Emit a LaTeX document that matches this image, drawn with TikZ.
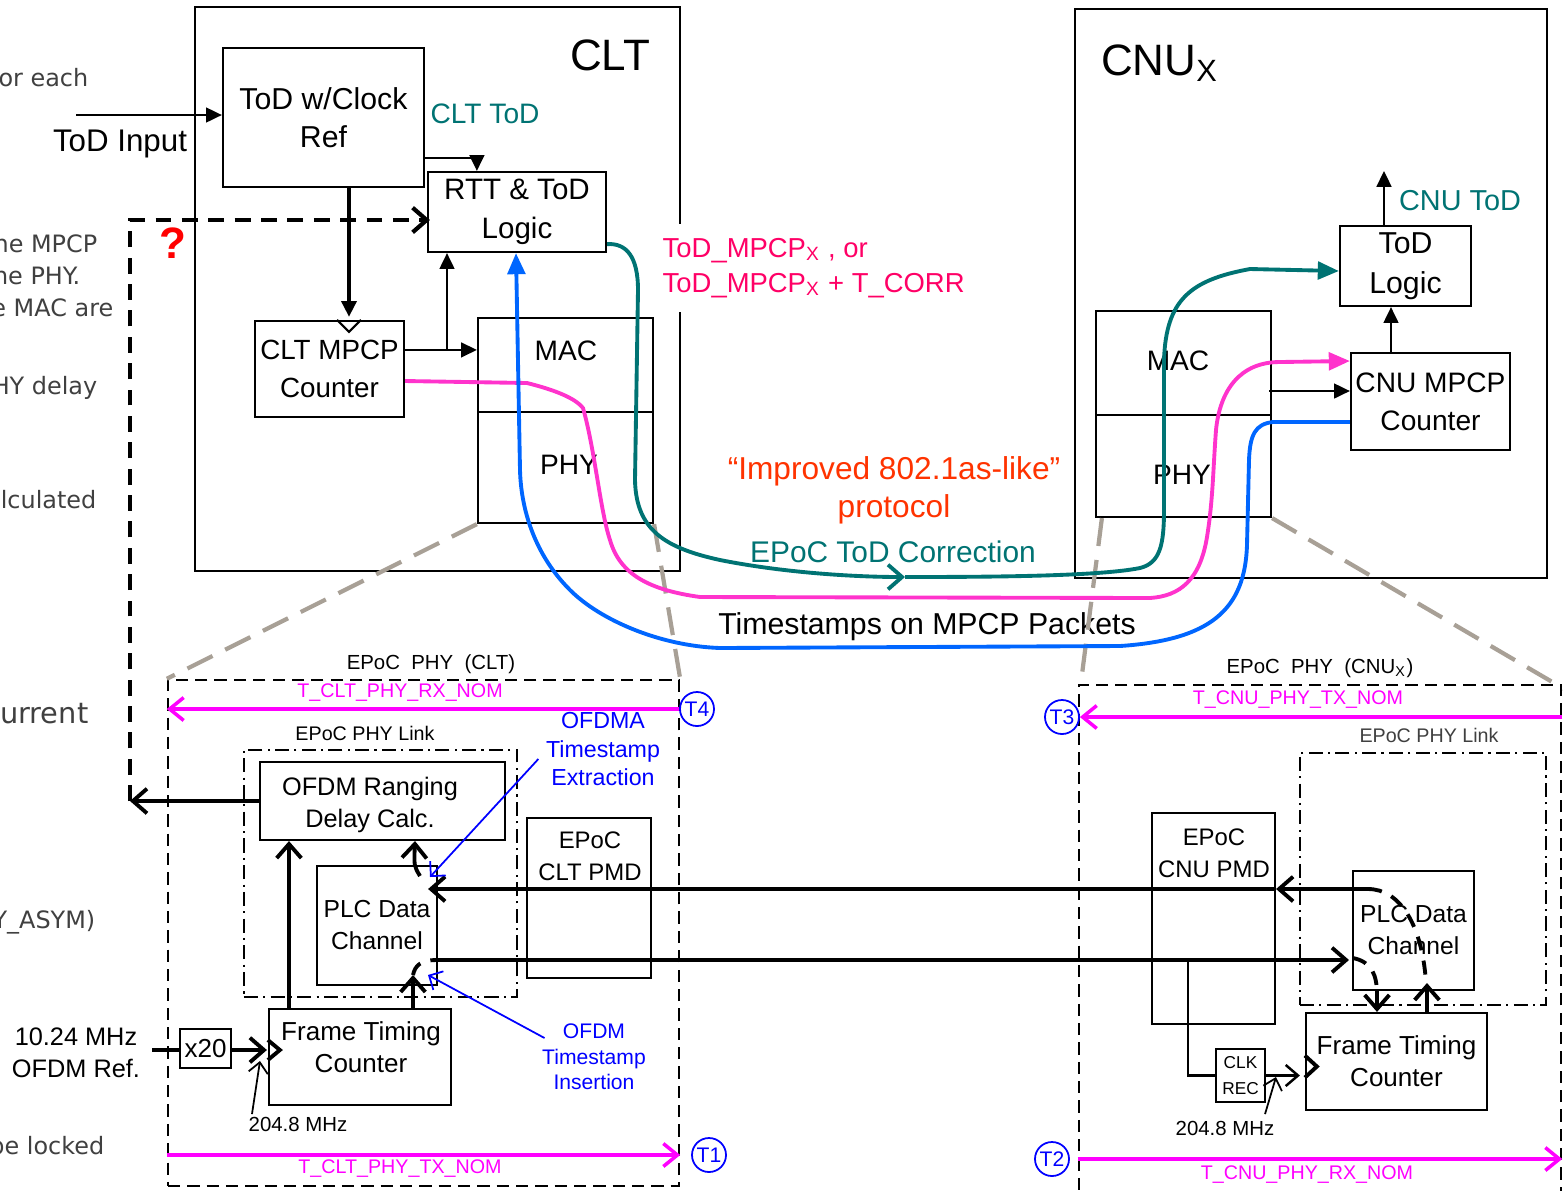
\documentclass[tikz,border=0pt]{standalone}
\usepackage{fontspec}
\setmainfont{Liberation Sans}
\newfontfamily\vfont{DejaVu Sans}
\usetikzlibrary{arrows.meta,positioning,calc}
\definecolor{tealc}{RGB}{0,115,115}
\definecolor{pinkc}{RGB}{255,51,204}
\definecolor{bluec}{RGB}{0,102,255}
\definecolor{magc}{RGB}{255,0,255}
\definecolor{redc}{RGB}{255,0,102}
\definecolor{orgc}{RGB}{255,51,0}
\definecolor{grayc}{RGB}{168,160,150}
\definecolor{txtgray}{RGB}{64,64,64}
\definecolor{lblue}{RGB}{0,0,255}
\newcommand{\fz}[2]{\fontsize{#1}{#2}\selectfont}
\tikzset{
  bx/.style={draw,line width=0.6pt,inner sep=0pt,align=center},
  lb/.style={inner sep=0pt,align=center},
  gt/.style={inner sep=0pt,anchor=east,text=txtgray,font=\vfont\fz{6.8}{8}},
  tcirc/.style={circle,draw=lblue,text=lblue,line width=0.5pt,minimum size=0.34cm,inner sep=0pt,font=\fz{6}{7}},
  phybox/.style={draw,line width=0.6pt,dash pattern=on 3.5pt off 2pt},
  linkbox/.style={draw,line width=0.6pt,dash pattern=on 4pt off 1.5pt on 0.6pt off 1.5pt},
  ae/.style={-{Triangle[length=4.5pt,width=4.2pt]},line width=0.6pt},
  te/.style={-{Straight Barb[length=4pt,width=7pt]},line width=1.1pt},
  ne/.style={-{Straight Barb[length=3pt,width=5.5pt]},line width=0.5pt},
  me/.style={-{Straight Barb[length=4pt,width=6.5pt]},line width=1pt,magc},
  be/.style={-{Straight Barb[length=3pt,width=6pt]},line width=0.5pt,lblue},
  ce/.style={line width=1.1pt,-{Triangle[length=6pt,width=5pt]}},
  dse/.style={line width=1.1pt,dash pattern=on 4pt off 3pt},
  gd/.style={grayc,line width=1.2pt,dash pattern=on 8pt off 4pt}
}
\begin{document}
\begin{tikzpicture}[x=0.01cm,y=-0.01cm]
\path[use as bounding box,clip] (0,0) rectangle (1563,1190);

% notes cut off at the left edge
\node[gt] (n1) at (89,78) {for each};
\node[gt] (n2) at (98,244) {the MPCP};
\node[gt] (n3) at (81,276) {the PHY.};
\node[gt] (n4) at (114,308) {the MAC are};
\node[gt] (n5) at (98,388) {PHY delay};
\node[gt] (n6) at (97,500) {calculated};
\node[gt,font=\vfont\fz{8.2}{10}] (n7) at (89,714) {current};
\node[gt] (n8) at (96,922) {PHY\_ASYM)};
\node[gt] (n9) at (105,1146) {be locked};

% CLT
\node[bx,minimum width=4.85cm,minimum height=5.64cm] (clt) at (437.5,289) {};
\node[lb,font=\fz{12.5}{14}] (cltname) at (610,55) {CLT};
\node[bx,font=\fz{8.6}{10.8},minimum width=2.01cm,minimum height=1.39cm] (todref) at (323.5,117.5) {ToD w/Clock\\Ref};
\node[bx,font=\fz{8.4}{11.2},minimum width=1.78cm,minimum height=0.80cm] (rtt) at (517,212) {RTT \& ToD\\Logic};
\node[bx,font=\fz{7.9}{10.8},minimum width=1.49cm,minimum height=0.96cm] (mpcp) at (329.5,369) {CLT MPCP\\Counter};
\node[bx,minimum width=1.75cm,minimum height=0.94cm] (mac) at (565.5,365) {};
\node[bx,minimum width=1.75cm,minimum height=1.11cm] (phy) at (565.5,467.5) {};
\node[lb,font=\fz{8}{10}] (macname) at (566,351) {MAC};
\node[lb,font=\fz{8}{10}] (phyname) at (569,465) {PHY};
\node[lb,font=\fz{8.9}{10}] (todin) at (120,144) {ToD Input};
\coordinate (todsrc) at (76,115);
\draw[ae] (todsrc) -- (todsrc -| todref.west);
\node[lb,font=\fz{8}{10},text=tealc] (clttod) at (485,114) {CLT ToD};
\draw[ae] ($(todref.south east)+(0,-30)$) -| ($(rtt.north west)+(50,0)$);
\draw[ae,line width=1.1pt] ($(todref.south)+(25.5,0)$) -- ($(mpcp.north)+(19.5,-3)$);
\draw[line width=0.6pt] ($(mpcp.north)+(7.5,0)$) -- ++(12,12) -- ++(12,-12);
\coordinate (m2m) at ($(mpcp.north east)+(0,30)$);
\draw[ae] (m2m) -- (m2m -| mac.west);
\draw[ae] (m2m -| 447,0) -- (rtt.south -| 447,0);
\node[lb,anchor=west,fill=white,inner xsep=2pt,inner ysep=4pt,align=left,text=redc,font=\fz{7.8}{10}] (todmpcp) at (655,268) {ToD\_MPCP\textsubscript{X} , or\\ToD\_MPCP\textsubscript{X} + T\_CORR};

% CNU
\node[bx,minimum width=4.72cm,minimum height=5.69cm] (cnu) at (1311,293.5) {};
\node[lb,font=\fz{12.5}{14}] (cnuname) at (1160,63) {CNU\textsubscript{X}};
\node[bx,font=\fz{8.6}{11.4},minimum width=1.31cm,minimum height=0.80cm] (cnutodl) at (1405.5,266) {ToD\\Logic};
\node[bx,font=\fz{8}{10.8},minimum width=1.59cm,minimum height=0.97cm] (cnumpcp) at (1430.5,401.5) {CNU MPCP\\Counter};
\node[bx,minimum width=1.75cm,minimum height=1.04cm] (cnumac) at (1183.5,363) {};
\node[bx,minimum width=1.75cm,minimum height=1.02cm] (cnuphy) at (1183.5,466) {};
\node[lb,font=\fz{8}{10}] (cnumacname) at (1178,361) {MAC};
\node[lb,font=\fz{8}{10}] (cnuphyname) at (1182,475) {PHY};
\draw[ae] ($(cnutodl.north)+(-21.5,0)$) -- ++(0,-54);
\node[lb,font=\fz{8.2}{10},text=tealc] (cnutod) at (1460,201) {CNU ToD};
\draw[ae] (cnumpcp.north -| 1391,0) -- (cnutodl.south -| 1391,0);
\coordinate (c2c) at (1269,391);
\draw[ae] (c2c) -- (c2c -| cnumpcp.west);

% middle texts
\node[lb,font=\fz{9}{10.8},text=orgc] (improved) at (894,490) {“Improved 802.1as-like”\\protocol};
\node[lb,font=\fz{8.5}{10},text=tealc] (epoccorr) at (893,552) {EPoC ToD Correction};
\node[lb,font=\fz{8.6}{10}] (tsmpcp) at (927,627) {Timestamps on MPCP Packets};

% EPoC PHY (CLT)
\node[phybox,minimum width=5.11cm,minimum height=5.06cm] (cltphy) at (423.5,933) {};
\node[lb,font=\fz{5.8}{7}] (cltphyname) at (431,664) {EPoC\ \ PHY\ \ (CLT)};
\node[tcirc] (t4) at (697,709) {T4};
\draw[me] (t4.west) -- (t4 -| cltphy.west);
\node[lb,font=\fz{5.6}{7},text=magc] (rxnom) at (400,693) {T\_CLT\_PHY\_RX\_NOM};
\node[lb,font=\fz{5.6}{7}] (cltlinkname) at (365,733) {EPoC PHY Link};
\node[linkbox,minimum width=2.73cm,minimum height=2.47cm] (cltlink) at (380.5,873.5) {};
\node[bx,minimum width=2.45cm,minimum height=0.78cm] (cltofdm) at (382.5,801) {};
\node[lb,font=\fz{7.2}{9.1}] (cltofdmname) at (370,805) {OFDM Ranging\\Delay Calc.};
\node[bx,font=\fz{7}{9.1},minimum width=1.20cm,minimum height=1.19cm] (cltplc) at (377,925.5) {PLC Data\\Channel};
\node[bx,minimum width=1.24cm,minimum height=1.60cm] (cltpmd) at (589,898) {};
\node[lb,font=\fz{6.8}{9.1}] (cltpmdname) at (590,856) {EPoC\\CLT PMD};
\node[bx,minimum width=1.82cm,minimum height=0.96cm] (cltftc) at (360,1057) {};
\node[lb,font=\fz{7.4}{9.1}] (cltftcname) at (361,1047) {Frame Timing\\Counter};
\node[bx,font=\fz{7.4}{9},minimum width=0.51cm,minimum height=0.39cm] (x20) at (205.5,1048.5) {x20};
\node[lb,font=\fz{7.2}{9.1}] (ofdmref) at (76,1053) {10.24 MHz\\OFDM Ref.};
\coordinate (refin) at (152,1050);
\draw[line width=1.1pt] (refin) -- (x20.west |- refin);
\draw[te] (x20.east |- refin) -- ($(cltftc.west |- refin)+(-1,0)$);
\draw[line width=1.1pt] ($(cltftc.west)+(0,-17)$) -- ++(12,10) -- ++(-12,10);
\node[lb,font=\fz{5.8}{7}] (clk1) at (298,1124) {204.8 MHz};
\coordinate (clkin1) at (260,1061);
\draw[ne] ($(clk1.north west)+(4,-2)$) -- (clkin1);
\node[tcirc] (t1) at (709,1155) {T1};
\draw[me] (t1 -| cltphy.west) -- (t1 -| cltphy.east);
\node[lb,font=\fz{5.6}{7},text=magc] (txnom) at (400,1169) {T\_CLT\_PHY\_TX\_NOM};
\draw[te] (cltftc.north -| 289,0) -- (cltofdm.south -| 289,0);
\draw[te] (cltftc.north -| 413,0) -- (413,975);
\draw[dse] (413,975) .. controls (415,966) and (420,960) .. (437,960);
\draw[te] (420,876) .. controls (414,866) .. (415,841);

% EPoC PHY (CNU)
\node[phybox,minimum width=4.82cm,minimum height=5.15cm] (cnuphybox) at (1320,942.5) {};
\node[lb,font=\fz{5.8}{7}] (cnuphyname2) at (1320,668) {EPoC\ \ PHY\ \ (CNU\textsubscript{X})};
\node[tcirc] (t3) at (1062,717) {T3};
\draw[me] (t3 -| cnuphybox.east) -- (t3.east);
\node[lb,font=\fz{5.6}{7},text=magc] (txnom2) at (1298,700) {T\_CNU\_PHY\_TX\_NOM};
\node[lb,font=\fz{5.6}{7},text=txtgray] (cnulinkname) at (1429,735) {EPoC PHY Link};
\node[linkbox,minimum width=2.46cm,minimum height=2.52cm] (cnulink) at (1423,879) {};
\node[bx,minimum width=1.23cm,minimum height=2.11cm] (cnupmd) at (1213.5,918.5) {};
\node[lb,font=\fz{6.8}{9.1}] (cnupmdname) at (1214,853) {EPoC\\CNU PMD};
\node[bx,font=\fz{7}{9.1},minimum width=1.21cm,minimum height=1.19cm] (cnuplc) at (1413.5,930.5) {PLC Data\\Channel};
\node[bx,font=\fz{7.4}{9.1},minimum width=1.81cm,minimum height=0.97cm] (cnuftc) at (1396.5,1061.5) {Frame Timing\\Counter};
\node[bx,font=\fz{4.9}{7.4},minimum width=0.49cm,minimum height=0.53cm] (clkrec) at (1240.5,1075.5) {CLK\\REC};
\node[lb,font=\fz{5.8}{7}] (clk2) at (1225,1128) {204.8 MHz};
\coordinate (clkin2) at (1276,1077);
\draw[ne] ($(clk2.north east)+(-10,-6)$) -- (clkin2);
\node[tcirc] (t2) at (1052,1159) {T2};
\draw[me] (t2 -| cnuphybox.west) -- (t2 -| cnuphybox.east);
\node[lb,font=\fz{5.6}{7},text=magc] (rxnom2) at (1307,1175) {T\_CNU\_PHY\_RX\_NOM};
\coordinate (cnutx) at (1368,889);
\coordinate (cnurx) at (1349,960);
\draw[te] (cnutx) -- (cnupmd.east |- cnutx);
\draw[te] (cnupmd.east |- cnutx) -- ($(cltplc.east |- cnutx)+(-10,0)$);
\draw[te] (cltplc.east |- cnurx) -- (cnurx);
\draw[dse] (cnutx) .. controls (1400,889) and (1422,925) .. (1426,982);
\draw[te] (cnuftc.north -| 1427,0) -- (1427,983);
\draw[dse] (1353,958) .. controls (1372,962) and (1377,975) .. (1377,995);
\draw[te] (1377,990) -- (cnuftc.north -| 1377,0);
\draw[line width=0.6pt] (cnurx -| 1188,0) |- (clkrec.west);
\draw[-{Straight Barb[length=3.5pt,width=6pt]},line width=0.7pt] (clkrec.east) -- ($(cnuftc.west |- clkrec.east)+(-5,0)$);
\draw[line width=1.1pt] ($(cnuftc.west)+(0,-6)$) -- ++(12,11) -- ++(-12,11);

% blue notes
\node[lb,font=\fz{6.6}{8},text=lblue] (ofdmax) at (603,749) {OFDMA\\Timestamp\\Extraction};
\draw[be] ($(ofdmax.west)+(-7,10)$) -- (430,877);
\node[lb,font=\fz{6}{7.3},text=lblue] (ofdmins) at (594,1057) {OFDM\\Timestamp\\Insertion};
\draw[be] ($(ofdmins.west)+(3,-19)$) -- (428,975);

% return path to RTT
\coordinate (qret) at (130,801);
\draw[te] (cltofdm.west) -- (qret);
\draw[line width=1.2pt,dash pattern=on 4.5pt off 3pt,-{Straight Barb[length=4pt,width=7pt]}] (qret) -- (130,220) -- ($(rtt.west)+(3,8)$);
\node[lb,text=red,font=\bfseries\fz{12.5}{14}] (qmark) at (173,243) {?};

% gray zoom lines
\coordinate (gr) at (1566,690);
\draw[gd] (phy.south west) -- (cltphy.north west);
\draw[gd] (phy.south east) -- (cltphy.north east);
\draw[gd] ($(cnuphy.south west)+(7,0)$) -- ($(cnuphybox.north west)+(3,0)$);
\draw[gd] (cnuphy.south east) -- (gr);

% timing paths
\draw[tealc,line width=1.1pt,-{Straight Barb[length=4pt,width=7pt]}] ($(rtt.south east)+(0,-9)$) .. controls (626,243) and (638,256) .. (638,290) -- (635,480) .. controls (636,530) and (665,548) .. (720,560) .. controls (780,572) and (850,577) .. (905,577);
\draw[tealc,ce] (905,577) .. controls (1000,577) and (1100,576) .. (1140,568) .. controls (1160,563) and (1164,545) .. (1164,510) -- (1164,360) .. controls (1166,300) and (1190,280) .. (1250,269) -- (cnutodl.west |- 0,271);
\draw[pinkc,ce] ($(mpcp.east)+(0,12)$) -- (527,383) .. controls (555,390) and (575,398) .. (583,408) .. controls (595,450) and (600,510) .. (610,540) .. controls (620,575) and (650,590) .. (700,597) -- (1150,598) .. controls (1180,596) and (1200,580) .. (1207,537) .. controls (1213,500) and (1213,470) .. (1216,430) .. controls (1220,390) and (1240,362) .. (1280,362) -- (cnumpcp.west |- 0,361);
\draw[bluec,ce] (cnumpcp.west |- 0,422) -- (1273,422) .. controls (1255,424) and (1250,435) .. (1249,460) -- (1247,545) .. controls (1245,610) and (1210,640) .. (1120,646) -- (720,648) .. controls (660,646) and (600,620) .. (570,590) .. controls (535,555) and (521,510) .. (520,470) -- (rtt.south -| 516,0);
\end{tikzpicture}
\end{document}
